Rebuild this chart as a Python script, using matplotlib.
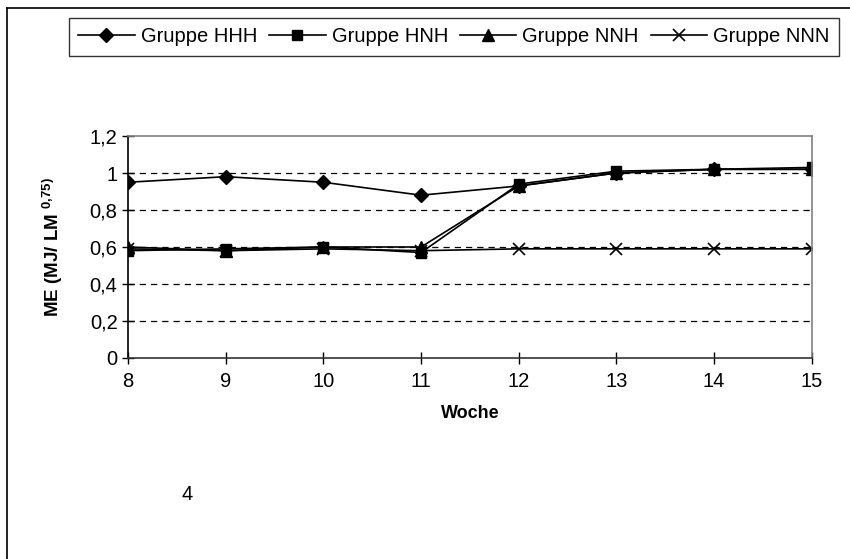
import matplotlib
matplotlib.use("Agg")
import matplotlib.pyplot as plt
from matplotlib.lines import Line2D

plt.rcParams["font.family"] = ["Liberation Sans", "DejaVu Sans"]
plt.rcParams["mathtext.fontset"] = "custom"
plt.rcParams["mathtext.rm"] = "Liberation Sans"
plt.rcParams["mathtext.bf"] = "Liberation Sans:bold"

weeks = [8, 9, 10, 11, 12, 13, 14, 15]
hhh = [0.95, 0.98, 0.95, 0.88, 0.93, 1.00, 1.02, 1.02]
hnh = [0.58, 0.59, 0.60, 0.57, 0.94, 1.01, 1.02, 1.03]
nnh = [0.60, 0.58, 0.60, 0.60, 0.93, 1.00, 1.02, 1.02]
nnn = [0.59, 0.58, 0.59, 0.58, 0.59, 0.59, 0.59, 0.59]
y_ticks = [0, 0.2, 0.4, 0.6, 0.8, 1, 1.2]
y_labels = ["0", "0,2", "0,4", "0,6", "0,8", "1", "1,2"]


def main():
    fig = plt.figure(figsize=(8.5, 5.59), dpi=100)
    ax = fig.add_axes([0.1506, 0.3596, 0.8044, 0.3971])

    # series
    ax.plot(weeks, hhh, color="black", lw=1.2, marker="D", ms=7.5, label="Gruppe HHH")
    ax.plot(weeks, hnh, color="black", lw=1.2, marker="s", ms=7, label="Gruppe HNH")
    ax.plot(weeks, nnh, color="black", lw=1.2, marker="^", ms=8, label="Gruppe NNH")
    ax.plot(weeks, nnn, color="black", lw=1.2, marker="x", ms=8, mew=1.2,
            label="Gruppe NNN")

    # axes
    ax.set_xlim(8, 15)
    ax.set_ylim(0, 1.2)
    ax.set_xticks(weeks)
    ax.set_yticks(y_ticks)
    ax.set_yticklabels(y_labels)
    ax.tick_params(direction="inout", length=8, width=1, labelsize=14.5,
                   colors="black")
    ax.tick_params(axis="x", pad=6)
    for y in y_ticks[1:-1]:
        ax.axhline(y, color="black", lw=0.9, ls=(0, (5, 4)), zorder=0)
    for side in ["top", "right"]:
        ax.spines[side].set_color("#808080")
        ax.spines[side].set_linewidth(1.2)
    for side in ["left", "bottom"]:
        ax.spines[side].set_linewidth(1.2)
    ax.spines["bottom"].set_color("#333333")

    ax.set_xlabel("Woche", fontsize=13, fontweight="bold", labelpad=10)
    ax.set_ylabel("ME (MJ/ LM $^{\\mathbf{0{,}75)}}$", fontsize=13.5,
                  fontweight="bold", labelpad=18)

    # legend box across the top
    leg = fig.legend(loc="center", bbox_to_anchor=(454 / 850, 1 - 37 / 559),
                     ncol=4, fontsize=14.5, frameon=True, fancybox=False,
                     edgecolor="black", handlelength=2.8, handletextpad=0.3,
                     columnspacing=0.6, borderpad=0.45)
    leg.get_frame().set_linewidth(1.0)

    fig.text(187 / 850, 1 - 495 / 559, "4", fontsize=14.5, ha="center",
             va="center")

    # outer frame (top and left only)
    fig.add_artist(Line2D([7 / 850, 7 / 850], [0, 1 - 8 / 559], color="black",
                          lw=1.2, transform=fig.transFigure))
    fig.add_artist(Line2D([7 / 850, 1], [1 - 8 / 559, 1 - 8 / 559],
                          color="black", lw=1.2, transform=fig.transFigure))

    fig.savefig("out.png", dpi=100)


if __name__ == "__main__":
    main()
